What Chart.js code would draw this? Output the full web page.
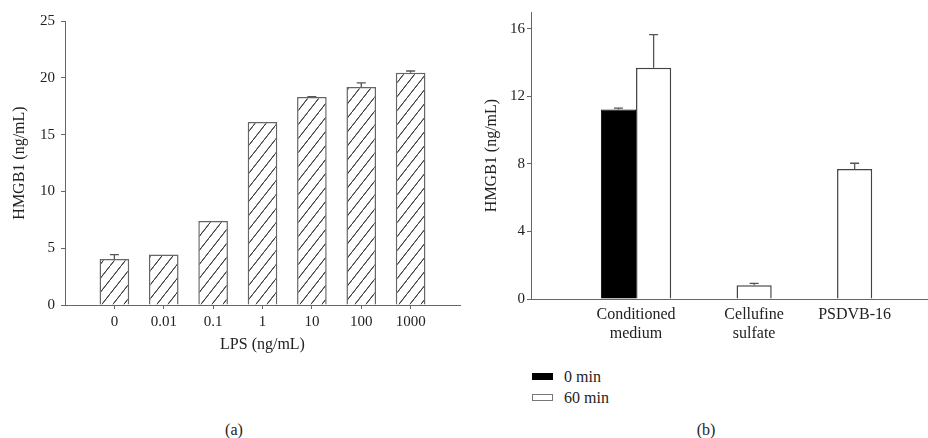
<!DOCTYPE html>
<html>
<head>
<meta charset="utf-8">
<script src="https://cdn.jsdelivr.net/npm/chart.js@4.4.0/dist/chart.umd.min.js"></script>
<style>
    body { margin: 0; background: #fff; }
    #wrap { position: relative; width: 928px; height: 438px; font-family: "Liberation Serif", "DejaVu Serif", serif; color: #222; }
    .box { position: absolute; top: 0; width: 464px; height: 360px; }
    #legend { position: absolute; left: 532px; top: 366px; font-size: 16px; }
    #legend .row { display: flex; align-items: center; height: 21px; }
    #legend .sw { width: 21px; height: 7px; margin-right: 11px; box-sizing: border-box; }
    .cap { position: absolute; top: 421px; font-size: 16px; transform: translateX(-50%); }
</style>
</head>
<body>
<div id="wrap">
    <div class="box" style="left:0"><canvas id="chartA"></canvas></div>
    <div class="box" style="left:464px"><canvas id="chartB"></canvas></div>
    <div id="legend"></div>
    <div class="cap" style="left:234px">(a)</div>
    <div class="cap" style="left:706px">(b)</div>
</div>
<script>
// panel (a)
const lpsLabels = ['0', '0.01', '0.1', '1', '10', '100', '1000'];
const hmgbLps = [4.05, 4.45, 7.4, 16.1, 18.3, 19.2, 20.45];
const hmgbLpsErr = [0.38, 0, 0, 0, 0.05, 0.35, 0.15];

// panel (b)
const groupLabels = [['Conditioned', 'medium'], ['Cellufine', 'sulfate'], ['PSDVB-16']];
const seriesNames = ['0 min', '60 min'];
const min0 = [11.23, null, null];
const min0Err = [0.08, null, null];
const min60 = [13.7, 0.81, 7.7];
const min60Err = [1.96, 0.12, 0.34];

Chart.defaults.font.family = '"Liberation Serif", "DejaVu Serif", serif';
Chart.defaults.font.size = 15;
Chart.defaults.color = '#222';
Chart.defaults.animation = false;

const axisGrey = '#666';

function hatch() {
    const c = document.createElement('canvas');
    c.width = 11; c.height = 14;
    const g = c.getContext('2d');
    g.fillStyle = '#fff';
    g.fillRect(0, 0, 11, 14);
    g.strokeStyle = '#3a3a3a';
    g.lineWidth = 1;
    g.beginPath();
    g.moveTo(-11, 28); g.lineTo(11, 0);
    g.moveTo(0, 14); g.lineTo(11, 0);
    g.moveTo(0, 28); g.lineTo(22, 0);
    g.stroke();
    return g.createPattern(c, 'repeat');
}

const toPoints = vals => vals.map((v, i) => ({ x: i, y: v }));

const errorBars = {
    id: 'errorBars',
    afterDatasetsDraw(chart) {
        const ctx = chart.ctx;
        const y = chart.scales.y;
        ctx.save();
        ctx.strokeStyle = '#555';
        ctx.lineWidth = 1.3;
        chart.data.datasets.forEach((ds, d) => {
            chart.getDatasetMeta(d).data.forEach((bar, i) => {
                const v = ds.data[i].y;
                const e = ds.errors[i];
                if (v === null || !e) return;
                const top = y.getPixelForValue(v + e);
                ctx.beginPath();
                ctx.moveTo(bar.x, bar.y);
                ctx.lineTo(bar.x, top);
                ctx.moveTo(bar.x - 4.5, top);
                ctx.lineTo(bar.x + 4.5, top);
                ctx.stroke();
            });
        });
        ctx.restore();
    }
};

// labels sit under the bars that exist in each group
const groupTicks = {
    id: 'groupTicks',
    afterDraw(chart) {
        const ctx = chart.ctx;
        const top = chart.scales.x.top;
        ctx.save();
        ctx.font = '16px "Liberation Serif", "DejaVu Serif", serif';
        ctx.fillStyle = '#222';
        ctx.textAlign = 'center';
        ctx.textBaseline = 'middle';
        groupLabels.forEach((lines, i) => {
            const xs = [];
            chart.data.datasets.forEach((ds, d) => {
                if (ds.data[i].y !== null) xs.push(chart.getDatasetMeta(d).data[i].x);
            });
            const cx = xs.reduce((a, b) => a + b, 0) / xs.length;
            lines.forEach((t, k) => ctx.fillText(t, cx, top + 16 + k * 19));
        });
        ctx.restore();
    }
};

new Chart(document.getElementById('chartA'), {
    type: 'bar',
    data: {
        datasets: [{
            data: toPoints(hmgbLps),
            errors: hmgbLpsErr,
            backgroundColor: hatch(),
            borderColor: axisGrey,
            borderWidth: 1.5,
            categoryPercentage: 0.6,
            barPercentage: 1
        }]
    },
    options: {
        responsive: true,
        maintainAspectRatio: false,
        layout: { padding: { left: 0, top: 21, right: 1, bottom: 6 } },
        plugins: { legend: { display: false }, tooltip: { enabled: false } },
        scales: {
            x: {
                type: 'linear',
                min: -1,
                max: 7,
                offset: false,
                grid: {
                    offset: false,
                    drawOnChartArea: false,
                    tickLength: 4,
                    color: c => (lpsLabels[c.tick.value] !== undefined ? axisGrey : 'rgba(0,0,0,0)')
                },
                border: { color: axisGrey, width: 1 },
                ticks: {
                    stepSize: 1,
                    autoSkip: false,
                    maxRotation: 0,
                    padding: 4,
                    callback: v => lpsLabels[v] ?? ''
                },
                title: { display: true, text: 'LPS (ng/mL)', padding: 0, font: { size: 16 } },
                afterFit: s => { s.height = 49; }
            },
            y: {
                min: 0,
                max: 25,
                grid: { drawOnChartArea: false, tickLength: 4, color: axisGrey },
                border: { color: axisGrey, width: 1 },
                ticks: { stepSize: 5, padding: 6 },
                title: { display: true, text: 'HMGB1 (ng/mL)', padding: { top: 10, bottom: 0 }, font: { size: 16 } },
                afterFit: s => { s.width = 65; }
            }
        }
    },
    plugins: [errorBars]
});

const chartB = new Chart(document.getElementById('chartB'), {
    type: 'bar',
    data: {
        datasets: [{
            label: seriesNames[0],
            data: toPoints(min0),
            errors: min0Err,
            backgroundColor: '#000',
            borderColor: '#000',
            borderWidth: 1,
            categoryPercentage: 0.7,
            barPercentage: 1
        }, {
            label: seriesNames[1],
            data: toPoints(min60),
            errors: min60Err,
            backgroundColor: '#fff',
            borderColor: '#444',
            borderWidth: 1.5,
            categoryPercentage: 0.7,
            barPercentage: 1
        }]
    },
    options: {
        responsive: true,
        maintainAspectRatio: false,
        layout: { padding: { left: 0, top: 12, right: 0, bottom: 0 } },
        plugins: { legend: { display: false }, tooltip: { enabled: false } },
        scales: {
            x: {
                type: 'linear',
                min: -1.045,
                max: 2.905,
                offset: false,
                grid: { display: false, offset: false },
                border: { color: axisGrey, width: 1 },
                ticks: { stepSize: 1, includeBounds: false, display: false },
                afterFit: s => { s.height = 61; }
            },
            y: {
                min: 0,
                max: 17,
                grid: { drawOnChartArea: false, tickLength: 4, color: axisGrey },
                border: { color: axisGrey, width: 1 },
                ticks: { stepSize: 4, includeBounds: false, padding: 2 },
                title: { display: true, text: 'HMGB1 (ng/mL)', padding: { top: 18, bottom: 0 }, font: { size: 16 } },
                afterFit: s => { s.width = 67; }
            }
        }
    },
    plugins: [errorBars, groupTicks]
});

// legend for panel (b)
const legend = document.getElementById('legend');
chartB.data.datasets.forEach(ds => {
    const row = document.createElement('div');
    row.className = 'row';
    const sw = document.createElement('span');
    sw.className = 'sw';
    sw.style.background = ds.backgroundColor;
    sw.style.border = '1px solid ' + (ds.backgroundColor === '#fff' ? '#777' : '#000');
    const txt = document.createElement('span');
    txt.textContent = ds.label;
    row.appendChild(sw);
    row.appendChild(txt);
    legend.appendChild(row);
});
</script>
</body>
</html>
